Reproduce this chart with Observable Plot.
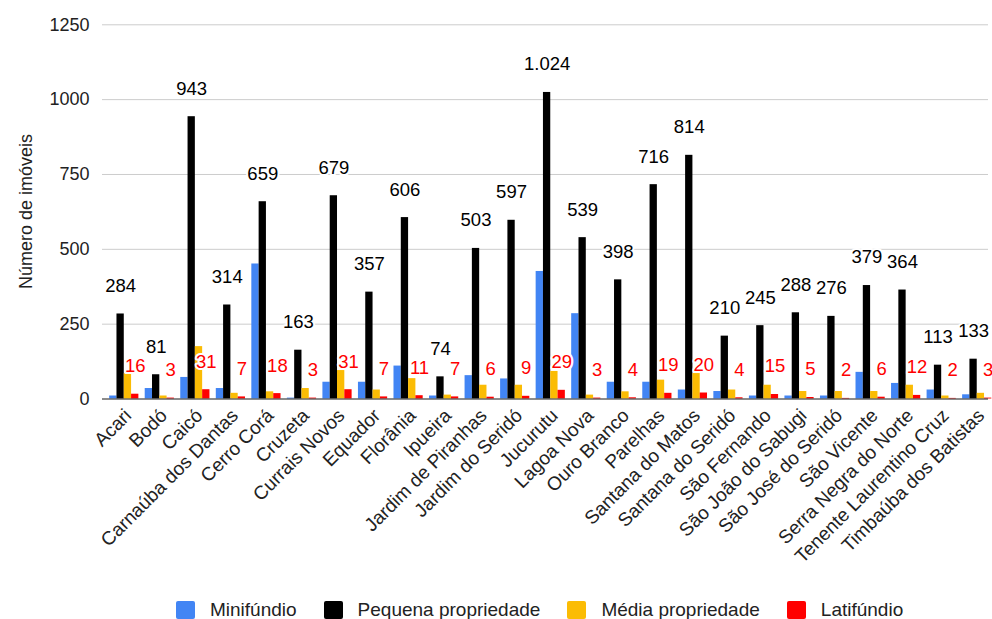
<!DOCTYPE html>
<html><head><meta charset="utf-8">
<script src="https://cdn.jsdelivr.net/npm/d3@7"></script>
<script src="https://cdn.jsdelivr.net/npm/@observablehq/plot@0.6"></script>
<style>
body{margin:0;background:#fff;font-family:"Liberation Sans",Arial,sans-serif;}
#legend{display:flex;justify-content:flex-start;align-items:center;height:39px;padding-top:20px;padding-left:176px;box-sizing:border-box;width:992px;font-family:"Liberation Sans",Arial,sans-serif;font-size:19px;color:#222;}
#legend .item{display:flex;align-items:center;margin-right:27px;white-space:nowrap;}
#legend .sw{width:19px;height:18px;border-radius:2px;margin-right:15px;}
</style></head><body>
<div id="chart"></div><div id="legend"></div>
<script>
const municipios = ["Acari","Bodó","Caicó","Carnaúba dos Dantas","Cerro Corá","Cruzeta","Currais Novos","Equador","Florânia","Ipueira","Jardim de Piranhas","Jardim do Seridó","Jucurutu","Lagoa Nova","Ouro Branco","Parelhas","Santana do Matos","Santana do Seridó","São Fernando","São João do Sabugi","São José do Seridó","São Vicente","Serra Negra do Norte","Tenente Laurentino Cruz","Timbaúba dos Batistas"];
const minifundio = [10,35,72,35,451,3,56,56,110,10,78,67,426,285,56,56,30,25,10,10,10,89,52,30,14];
const pequena = [284,81,943,314,659,163,679,357,606,74,503,597,1024,539,398,716,814,210,245,288,276,379,364,113,133];
const media = [85,10,175,19,24,35,95,30,68,13,46,46,92,13,24,63,85,30,46,25,25,25,46,10,19];
const latifundio = [16,3,31,7,18,3,31,7,11,7,6,9,29,3,4,19,20,4,15,5,2,6,12,2,3];
const series = ["Minifúndio","Pequena propriedade","Média propriedade","Latifúndio"];
const colors = ["#4285F4","#000000","#FBBC04","#FF0000"];
const yTicks = [0,250,500,750,1000,1250];

const values = [minifundio, pequena, media, latifundio];
const rows = municipios.flatMap((m,i)=>values.map((v,s)=>({municipio:m, serie:series[s], valor:v[i]})));
const fmt = d3.formatLocale({decimal:",", thousands:".", grouping:[3], currency:["R$",""]}).format(",");

const W=992, H=580, ML=102, MR=4, MT=24, MB=182;
const xRange=[106, 994.5];
const step=(xRange[1]-xRange[0])/municipios.length;
const barW=7.3;

const marks=[Plot.gridY(yTicks,{stroke:"#cccccc",strokeOpacity:1})];
series.forEach((s,k)=>{
  const off=(k-1.5)*barW;
  const base=(step-barW)/2;
  marks.push(Plot.barY(rows.filter(d=>d.serie===s),{x:"municipio",y:"valor",fill:colors[k],insetLeft:base+off,insetRight:base-off}));
});
marks.push(Plot.ruleY([0],{stroke:"#333"}));
[[1,"#000000"],[3,"#FF0000"]].forEach(([k,c])=>{
  const off=(k-1.5)*barW;
  marks.push(Plot.text(rows.filter(d=>d.serie===series[k]),{x:"municipio",y:"valor",text:d=>fmt(d.valor),dx:off,dy:-28,fill:c,stroke:"white",strokeWidth:4,fontSize:18.5}));
});
marks.push(Plot.axisY(yTicks,{tickSize:0,tickPadding:13,fontSize:18,label:"Número de imóveis",labelAnchor:"center",labelArrow:"none",labelOffset:83,tickFormat:d=>String(d)}));
marks.push(Plot.axisX({tickSize:0,tickRotate:-45,tickPadding:8,dx:4,dy:6,fontSize:19,label:null}));

const chart=Plot.plot({
  width:W,height:H,marginLeft:ML,marginRight:MR,marginTop:MT,marginBottom:MB,
  style:{fontFamily:'"Liberation Sans",Arial,sans-serif',color:"#222",background:"#fff",overflow:"visible"},
  x:{type:"band",domain:municipios,padding:0,range:xRange,round:false},
  y:{domain:[0,1250],range:[398.5,24.3]},
  marks
});
document.getElementById("chart").append(chart);

const lg=document.getElementById("legend");
series.forEach((s,k)=>{
  const it=document.createElement("div");it.className="item";
  const sw=document.createElement("span");sw.className="sw";sw.style.background=colors[k];
  const tx=document.createElement("span");tx.textContent=s;
  it.append(sw,tx);lg.append(it);
});
</script></body></html>
